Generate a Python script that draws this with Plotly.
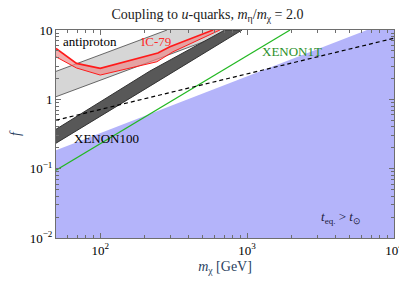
import math
import plotly.graph_objects as go

# region t_eq > t_sun (blue), boundary readings
blue_x = [50, 6550, 1e4, 1e4, 50]
blue_y = [0.185, 10, 10, 0.01, 0.01]

# antiproton band edges
pbar_hi_x = [50, 285]
pbar_hi_y = [2.53, 10]
pbar_lo_x = [50, 830]
pbar_lo_y = [1.09, 10]

# IC-79 band edges
ic_hi_x = [50, 69, 100, 247, 298, 586]
ic_hi_y = [5.43, 3.3, 2.8, 4.65, 5.74, 10]
ic_lo_x = [50, 69, 100, 243, 313, 653]
ic_lo_y = [4.1, 2.83, 2.24, 3.48, 4.85, 10]

# XENON100 band edges
x100_hi_x = [50, 218, 706]
x100_hi_y = [0.37, 2.56, 10]
x100_lo_x = [50, 218, 923]
x100_lo_y = [0.233, 1.55, 10]

# XENON1T line
x1t_x = [50, 1960]
x1t_y = [0.095, 10]

# dashed line
dash_x = [50, 1e4]
dash_y = [0.5, 7.6]

x_ticks = [100, 1000, 10000]
x_ticktext = ["10<sup>2</sup>", "10<sup>3</sup>", "10<sup>4</sup>"]
y_ticks = [0.01, 0.1, 1, 10]
y_ticktext = ["10<sup>−2</sup>", "10<sup>−1</sup>", "1", "10"]

FONT = "Liberation Serif"

fig = go.Figure()

# antiproton band
fig.add_trace(go.Scatter(
    x=pbar_hi_x + pbar_lo_x[::-1], y=pbar_hi_y + pbar_lo_y[::-1],
    fill="toself", fillcolor="#d6d6d6", line=dict(width=0),
    mode="lines", hoverinfo="skip"))
for xs, ys in [(pbar_hi_x, pbar_hi_y), (pbar_lo_x, pbar_lo_y)]:
    fig.add_trace(go.Scatter(x=xs, y=ys, mode="lines",
                             line=dict(color="#444444", width=0.8)))

# blue region
fig.add_trace(go.Scatter(
    x=blue_x, y=blue_y, fill="toself", fillcolor="#b4b4fa",
    line=dict(width=0), mode="lines", hoverinfo="skip"))

# IC-79
fig.add_trace(go.Scatter(
    x=ic_hi_x + ic_lo_x[::-1], y=ic_hi_y + ic_lo_y[::-1],
    fill="toself", fillcolor="rgba(235,140,140,0.7)", line=dict(width=0),
    mode="lines", hoverinfo="skip"))
fig.add_trace(go.Scatter(x=ic_hi_x, y=ic_hi_y, mode="lines",
                         line=dict(color="#ff1a1a", width=1.6)))
fig.add_trace(go.Scatter(x=ic_lo_x, y=ic_lo_y, mode="lines",
                         line=dict(color="#ff1a1a", width=1)))

# XENON100 band
fig.add_trace(go.Scatter(
    x=x100_hi_x + x100_lo_x[::-1], y=x100_hi_y + x100_lo_y[::-1],
    fill="toself", fillcolor="#585858", line=dict(color="#333333", width=1),
    mode="lines", hoverinfo="skip"))

# XENON1T
fig.add_trace(go.Scatter(x=x1t_x, y=x1t_y, mode="lines",
                         line=dict(color="#22b822", width=1.2)))

# dashed
fig.add_trace(go.Scatter(x=dash_x, y=dash_y, mode="lines",
                         line=dict(color="black", width=1.2, dash="4px,3px")))

# annotation positions on log axes are given in log10 units
labels = [
    (85, 6.9, "antiproton", "black"),
    (240, 6.8, "IC-79", "#ff2a2a"),
    (2020, 4.85, "XENON1T", "#2a8f2a"),
    (111, 0.275, "XENON100", "black"),
    (4350, 0.02, "<i>t</i><sub>eq.</sub> > <i>t</i><sub>⊙</sub>", "#20203a"),
]
for x, y, t, c in labels:
    fig.add_annotation(x=math.log10(x), y=math.log10(y), xref="x", yref="y",
                       text=t, showarrow=False, font=dict(family=FONT, size=13, color=c))

axis_common = dict(
    type="log", showgrid=False, zeroline=False, automargin=False,
    showline=True, linecolor="#6e6e6e", linewidth=1, mirror="ticks",
    ticks="inside", ticklen=5, tickcolor="#6e6e6e",
    tickfont=dict(family=FONT, size=13, color="black"),
    minor=dict(ticks="inside", ticklen=3, tickcolor="#6e6e6e", dtick="D1", showgrid=False),
)

fig.update_xaxes(axis_common, range=[1.69897, 4], tickvals=x_ticks, ticktext=x_ticktext,
                 title=dict(text="<i>m</i><sub>χ</sub> [GeV]", font=dict(family=FONT, size=14),
                            standoff=4))
fig.update_yaxes(axis_common, range=[-2, 1], tickvals=y_ticks, ticktext=y_ticktext,
                 title=dict(text="<i>f</i>", font=dict(family=FONT, size=14), standoff=10))

# the page body has an 8px margin, so the figure is shrunk and margins shifted by 8px
fig.update_layout(
    width=399, height=273,
    margin=dict(l=48, r=13, t=22, b=43),
    paper_bgcolor="white", plot_bgcolor="white",
    showlegend=False,
    title=dict(text="Coupling to <i>u</i>-quarks, <i>m</i><sub>η</sub>/<i>m</i><sub>χ</sub> = 2.0",
               x=0.5, xanchor="center", yref="container", y=0.995, yanchor="top",
               font=dict(family=FONT, size=14, color="#222222")),
)

fig.write_html("out.html")
